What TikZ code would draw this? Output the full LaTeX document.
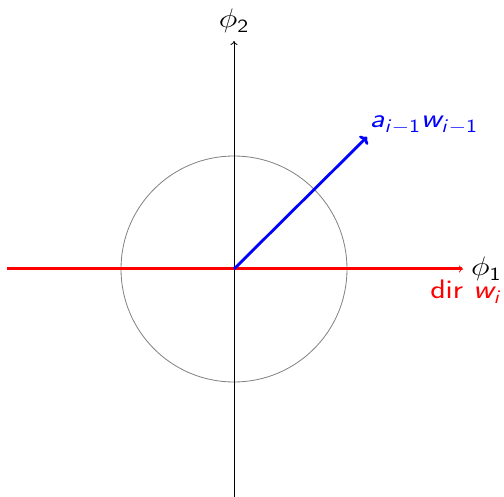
\documentclass[tikz,border=0pt]{standalone}
\usetikzlibrary{arrows.meta}
\DeclareMathAlphabet{\mathsfit}{OT1}{cmss}{m}{sl}
\newcommand{\bigtxt}[1]{\scalebox{1.85}[1.55]{#1}}
\begin{document}
\begin{tikzpicture}[x=1pt,y=-1pt,
  axis/.style={line width=0.8pt,-{To[length=4pt,width=7pt]}},
  lbl/.style={font=\fontsize{17.28}{21}\selectfont\sffamily,inner sep=0pt}]
\useasboundingbox (0,0) rectangle (504,497);
\coordinate (O) at (234,269);
\coordinate (ybot) at (234,497);
\coordinate (ytop) at (234,41);
\coordinate (xl) at (7,269);
\coordinate (xr) at (463,269);
\coordinate (A) at (367,137);
\draw[gray,line width=0.8pt] (O) circle[radius=113];
\draw[axis,black] (ybot) -- (ytop);
\draw[red,line width=3pt] (xl) -- (462,269);
\draw[axis,red] (O) -- (xr);
\draw[blue,line width=2.8pt,-{To[length=6pt,width=12pt,line width=2.8pt]}] (O) -- (A);
\node[lbl,anchor=base] (p2) at (234,28) {\bigtxt{$\phi_{\mathsf{2}}$}};
\node[lbl,anchor=base west] (p1) at (471,276) {\bigtxt{$\phi_{\mathsf{1}}$}};
\node[lbl,anchor=base east,red] (dir) at (502,299) {\bigtxt{dir $\mathsfit{w}_{\mathsfit{i}}$}};
\node[lbl,anchor=base west,blue] (aw) at (370,128) {\bigtxt{$\mathsfit{a}_{\mathsfit{i}\mathsf{-1}}\mathsfit{w}_{\mathsfit{i}\mathsf{-1}}$}};
\end{tikzpicture}
\end{document}
